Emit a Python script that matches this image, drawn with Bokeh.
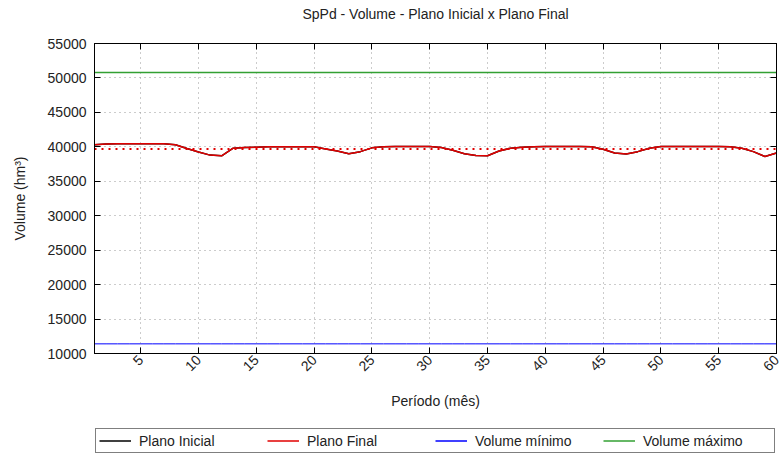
from bokeh.plotting import figure
from bokeh.models import Range1d, LinearAxis, Legend, LegendItem, FixedTicker, Label
from bokeh.layouts import column
from bokeh.embed import file_html
from bokeh.resources import INLINE
import math

# ---- data ----
titulo = "SpPd - Volume - Plano Inicial x Plano Final"
meses = list(range(1, 61))
plano_final = [40300, 40400, 40450, 40450, 40450, 40450, 40450, 40300, 39750, 39250,
               38800, 38700, 39800, 39900, 39950, 40000, 40000, 40000, 40000, 40000,
               39700, 39400, 39000, 39300, 39850, 40000, 40050, 40050, 40050, 40050,
               39900, 39500, 39000, 38750, 38700, 39400, 39800, 39950, 40000, 40050,
               40050, 40050, 40050, 40000, 39650, 39100, 38950, 39300, 39800, 40050,
               40050, 40050, 40050, 40050, 40050, 40000, 39800, 39300, 38600, 39100]
plano_inicial = [40300, 40400, 40450, 40450, 40450, 40450, 40450, 40300, 39750, 39250,
                 38800, 38700, 39800, 39900, 39950, 40000, 40000, 40000, 40000, 40000,
                 39700, 39400, 39000, 39300, 39850, 40000, 40050, 40050, 40050, 40050,
                 39900, 39500, 39000, 38750, 38700, 39400, 39800, 39950, 40000, 40050,
                 40050, 40050, 40050, 40000, 39650, 39100, 38950, 39300, 39800, 40050,
                 40050, 40050, 40050, 40050, 40050, 40000, 39800, 39300, 38600, 39100]
volume_minimo = 11400
volume_maximo = 50800
volume_meta = 39700
x_ticks = [5, 10, 15, 20, 25, 30, 35, 40, 45, 50, 55, 60]
y_ticks = [10000, 15000, 20000, 25000, 30000, 35000, 40000, 45000, 50000, 55000]
series_names = ["Plano Inicial", "Plano Final", "Volume mínimo", "Volume máximo"]
series_colors = ["black", "#e00000", "#0000ff", "#33a033"]

FONT = "Liberation Sans"
FS = "14px"

# ---- title strip ----
pt = figure(width=781, height=27, output_backend="svg", toolbar_location=None,
            x_axis_type=None, y_axis_type=None, min_border=0,
            x_range=Range1d(0, 1), y_range=Range1d(0, 1))
pt.outline_line_color = None
pt.grid.visible = False
pt.add_layout(Label(x=0.5, y=0.5, text=titulo, text_align="center",
                    text_baseline="middle", text_font=FONT, text_font_size=FS,
                    text_color="#222222"))

# ---- main chart ----
p = figure(width=781, height=393, output_backend="svg", toolbar_location=None,
           x_range=Range1d(1, 60), y_range=Range1d(10000, 55000),
           min_border_left=94, min_border_right=5, min_border_top=16, min_border_bottom=67)

p.outline_line_color = "black"
p.outline_line_width = 1
p.outline_line_alpha = 1
p.background_fill_color = "white"
p.border_fill_color = "white"

for ax, ticks in ((p.xaxis[0], x_ticks), (p.yaxis[0], y_ticks)):
    ax.ticker = FixedTicker(ticks=ticks)
    ax.major_tick_in = 6
    ax.major_tick_out = 0
    ax.minor_tick_in = 0
    ax.minor_tick_out = 0
    ax.major_label_text_font = FONT
    ax.major_label_text_font_size = FS
    ax.major_label_text_color = "#222222"
    ax.axis_label_text_font = FONT
    ax.axis_label_text_font_size = FS
    ax.axis_label_text_font_style = "normal"
    ax.axis_label_text_color = "#222222"
    ax.axis_line_color = "black"
    ax.major_tick_line_color = "black"

p.xaxis[0].axis_label = "Período (mês)"
p.xaxis[0].major_label_orientation = math.pi / 4
p.xaxis[0].major_label_standoff = 4
p.xaxis[0].axis_label_standoff = 14
p.yaxis[0].axis_label = "Volume (hm³)"
p.yaxis[0].major_label_standoff = 8
p.yaxis[0].axis_label_standoff = 17

# mirror ticks on top and right
top = LinearAxis(ticker=FixedTicker(ticks=x_ticks), major_tick_in=6, major_tick_out=0,
                 minor_tick_in=0, minor_tick_out=0, major_label_text_alpha=0,
                 major_label_text_font_size="1px", major_label_standoff=0)
right = LinearAxis(ticker=FixedTicker(ticks=y_ticks), major_tick_in=6, major_tick_out=0,
                   minor_tick_in=0, minor_tick_out=0, major_label_text_alpha=0,
                   major_label_text_font_size="1px", major_label_standoff=0)
p.add_layout(top, "above")
p.add_layout(right, "right")

p.xgrid.ticker = FixedTicker(ticks=x_ticks)
p.ygrid.ticker = FixedTicker(ticks=y_ticks)
p.grid.grid_line_color = "#999999"
p.grid.grid_line_dash = "1 4"
p.grid.grid_line_width = 1

p.line(meses, plano_inicial, line_color=series_colors[0], line_width=1.5)
p.line(meses, plano_final, line_color=series_colors[1], line_width=1.5)
p.line(meses, [volume_meta] * len(meses), line_color=series_colors[1], line_width=2,
       line_dash="2 5")
p.line(meses, [volume_minimo] * len(meses), line_color=series_colors[2], line_width=1)
p.line(meses, [volume_maximo] * len(meses), line_color=series_colors[3], line_width=1.5)

# ---- legend strip below the chart (legend proxies are single off-range points) ----
pl = figure(width=781, height=43, output_backend="svg", toolbar_location=None,
            x_axis_type=None, y_axis_type=None, min_border=0,
            x_range=Range1d(0, 1), y_range=Range1d(0, 1))
pl.outline_line_color = None
pl.grid.visible = False
items = []
for name, col in zip(series_names, series_colors):
    r = pl.line([-1], [-1], line_color=col, line_width=1.5)
    items.append(LegendItem(label=name, renderers=[r]))
legend = Legend(items=items, orientation="horizontal", location=(1, 10),
                padding=3, margin=0, spacing=0,
                glyph_width=32, glyph_height=17, label_height=17,
                label_width=128, label_standoff=8,
                label_text_font=FONT, label_text_font_size=FS,
                label_text_color="#222222",
                border_line_color="black", border_line_width=1,
                background_fill_color="white", background_fill_alpha=1)
pl.add_layout(legend)

layout = column(pt, p, pl, spacing=0)
open("out.html", "w").write(file_html(layout, INLINE))
